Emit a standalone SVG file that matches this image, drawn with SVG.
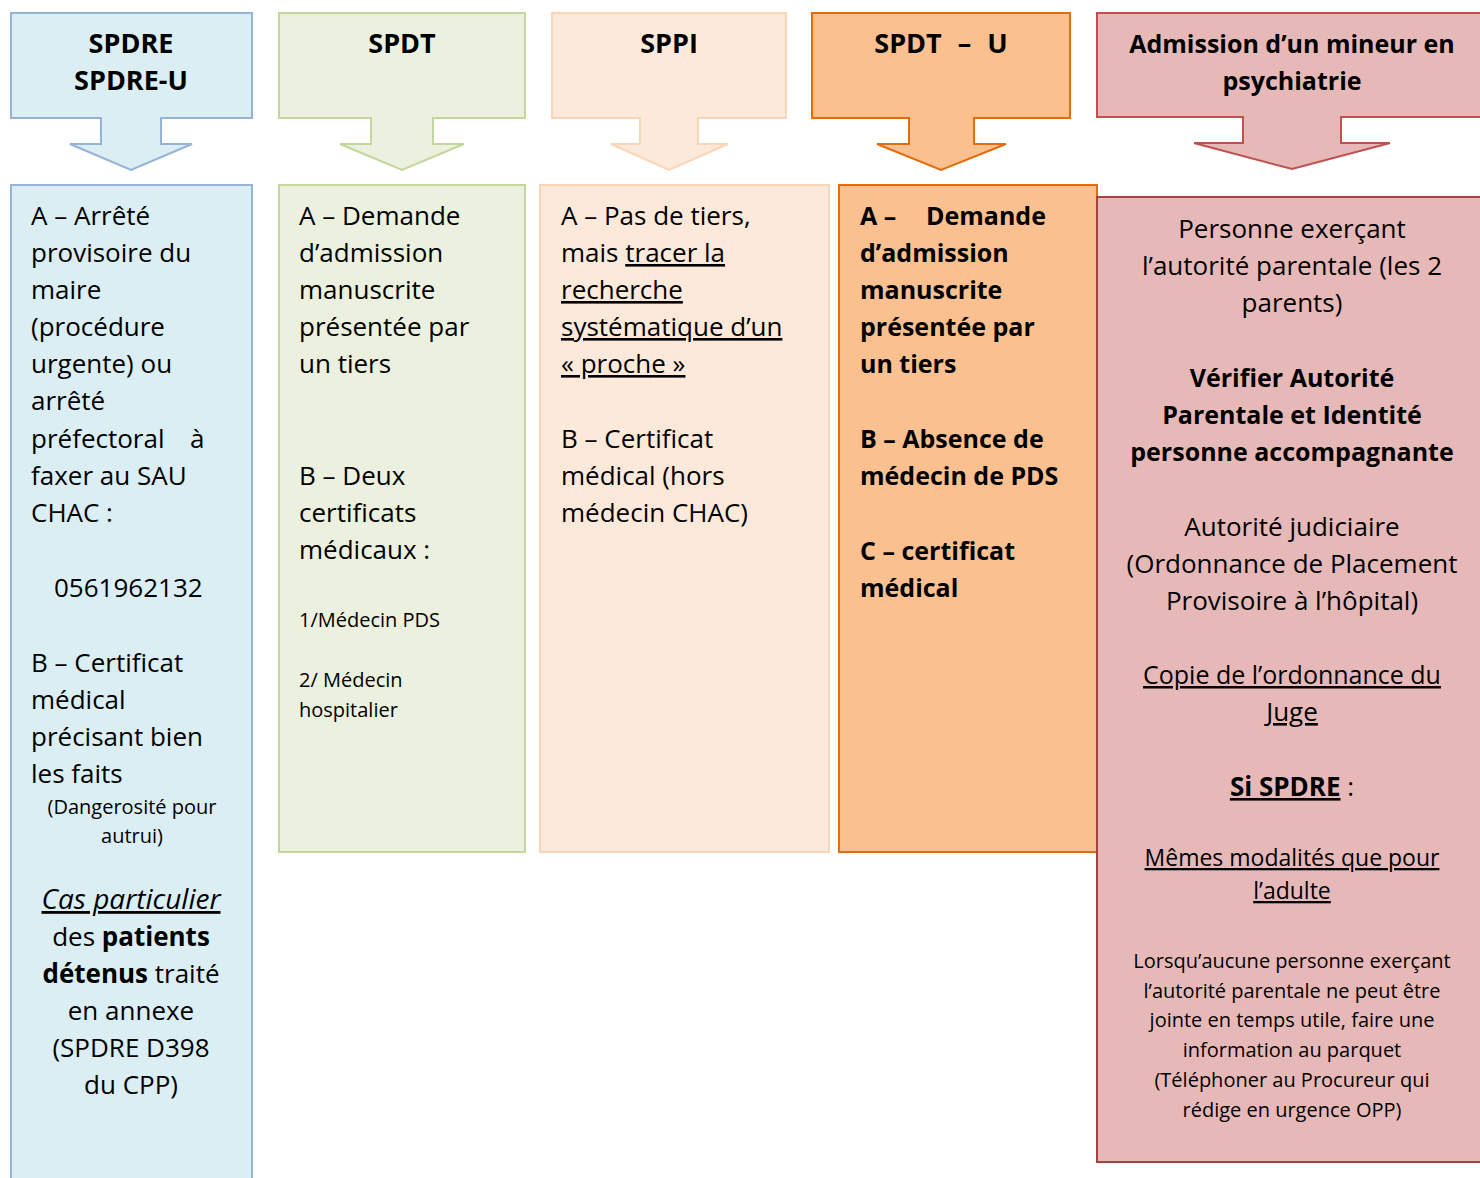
<svg xmlns="http://www.w3.org/2000/svg" width="1480" height="1178" viewBox="0 0 1480 1178">
<style>
text{font-family:"Open Sans","DejaVu Sans",sans-serif;fill:#000;}
.h{font-size:25px;font-weight:bold;text-anchor:middle;}
.h2{font-size:27px;}
.t{font-size:26px;}
.b{font-size:25px;font-weight:bold;}
.s{font-size:20px;}
.m{text-anchor:middle;}
.u{text-decoration:underline;}
.bold{font-weight:bold;}
.blue{fill:#dbeef4;stroke:#95b3d7;stroke-width:2;}
.green{fill:#ebf1de;stroke:#c3d69b;stroke-width:2;}
.peach{fill:#fde9d9;stroke:#fbd5b5;stroke-width:2;}
.orange{fill:#fac08f;stroke:#e46c0a;stroke-width:2;}
.pink{fill:#e6b9b8;stroke:#c0504d;stroke-width:2;}
.pinkb{fill:#e6b9b8;stroke:#a5433f;stroke-width:2;}
</style>
<rect width="1480" height="1178" fill="#fff"/>

<g id="head-spdre">
<path class="blue" d="M11,13 H252 V118 H161 V144 H192 L131,170 L70,144 H101 V118 H11 Z"/>
<text class="h h2" x="131" y="53">SPDRE</text>
<text class="h h2" x="131" y="90">SPDRE-U</text>
</g>
<g id="head-spdt">
<path class="green" d="M279,13 H525 V118 H433 V144 H464 L402,170 L340,144 H371 V118 H279 Z"/>
<text class="h h2" x="402" y="53">SPDT</text>
</g>
<g id="head-sppi">
<path class="peach" d="M552,13 H786 V118 H698 V144 H728 L669,170 L611,144 H640 V118 H552 Z"/>
<text class="h h2" x="669" y="53">SPPI</text>
</g>
<g id="head-spdtu">
<path class="orange" d="M812,13 H1070 V118 H974 V144 H1006 L941,170 L877,144 H909 V118 H812 Z"/>
<text class="h h2" x="941" y="53" word-spacing="9">SPDT – U</text>
</g>
<g id="head-mineur">
<path class="pink" d="M1097,13 H1492 V117 H1341 V143 H1390 L1292,169 L1194,143 H1243 V117 H1097 Z"/>
<text class="h" x="1292" y="53">Admission d’un mineur en</text>
<text class="h" x="1292" y="90">psychiatrie</text>
</g>

<g id="body-spdre">
<rect class="blue" x="11" y="185" width="241" height="1010"/>
<text class="t" x="31" y="225">A – Arrêté</text>
<text class="t" x="31" y="262">provisoire du</text>
<text class="t" x="31" y="299">maire</text>
<text class="t" x="31" y="336">(procédure</text>
<text class="t" x="31" y="373">urgente) ou</text>
<text class="t" x="31" y="410">arrêté</text>
<text class="t" x="31" y="448">préfectoral</text>
<text class="t" x="190" y="448">à</text>
<text class="t" x="31" y="485">faxer au SAU</text>
<text class="t" x="31" y="522">CHAC :</text>
<text class="t" x="54" y="597">0561962132</text>
<text class="t" x="31" y="672">B – Certificat</text>
<text class="t" x="31" y="709">médical</text>
<text class="t" x="31" y="746">précisant bien</text>
<text class="t" x="31" y="783">les faits</text>
<text class="s m" x="132" y="814">(Dangerosité pour</text>
<text class="s m" x="132" y="843">autrui)</text>
<text class="m u" x="131" y="909" style="font-style:italic;font-size:28px">Cas particulier</text>
<text class="t m" x="131" y="946">des <tspan class="bold">patients</tspan></text>
<text class="t m" x="131" y="983"><tspan class="bold">détenus</tspan> traité</text>
<text class="t m" x="131" y="1020">en annexe</text>
<text class="t m" x="131" y="1057">(SPDRE D398</text>
<text class="t m" x="131" y="1094">du CPP)</text>
</g>

<g id="body-spdt">
<rect class="green" x="279" y="185" width="246" height="667"/>
<text class="t" x="299" y="225">A – Demande</text>
<text class="t" x="299" y="262">d’admission</text>
<text class="t" x="299" y="299">manuscrite</text>
<text class="t" x="299" y="336">présentée par</text>
<text class="t" x="299" y="373">un tiers</text>
<text class="t" x="299" y="485">B – Deux</text>
<text class="t" x="299" y="522">certificats</text>
<text class="t" x="299" y="559">médicaux :</text>
<text class="s" x="299" y="627">1/Médecin PDS</text>
<text class="s" x="299" y="687">2/ Médecin</text>
<text class="s" x="299" y="717">hospitalier</text>
</g>

<g id="body-sppi">
<rect class="peach" x="540" y="185" width="289" height="667"/>
<text class="t" x="561" y="225">A – Pas de tiers,</text>
<text class="t" x="561" y="262">mais <tspan class="u">tracer la</tspan></text>
<text class="t u" x="561" y="299">recherche</text>
<text class="t u" x="561" y="336">systématique d’un</text>
<text class="t u" x="561" y="373">« proche »</text>
<text class="t" x="561" y="448">B – Certificat</text>
<text class="t" x="561" y="485">médical (hors</text>
<text class="t" x="561" y="522">médecin CHAC)</text>
</g>

<g id="body-spdtu">
<rect class="orange" x="839" y="185" width="258" height="667"/>
<text class="b" x="860" y="225">A –</text>
<text class="b" x="926" y="225">Demande</text>
<text class="b" x="860" y="262">d’admission</text>
<text class="b" x="860" y="299">manuscrite</text>
<text class="b" x="860" y="336">présentée par</text>
<text class="b" x="860" y="373">un tiers</text>
<text class="b" x="860" y="448">B – Absence de</text>
<text class="b" x="860" y="485">médecin de PDS</text>
<text class="b" x="860" y="560">C – certificat</text>
<text class="b" x="860" y="597">médical</text>
</g>

<g id="body-mineur">
<rect class="pinkb" x="1097" y="197" width="395" height="965"/>
<text class="t m" x="1292" y="238">Personne exerçant</text>
<text class="t m" x="1292" y="275">l’autorité parentale (les 2</text>
<text class="t m" x="1292" y="312">parents)</text>
<text class="b m" x="1292" y="387">Vérifier Autorité</text>
<text class="b m" x="1292" y="424">Parentale et Identité</text>
<text class="b m" x="1292" y="461">personne accompagnante</text>
<text class="t m" x="1292" y="536">Autorité judiciaire</text>
<text class="t m" x="1292" y="573">(Ordonnance de Placement</text>
<text class="t m" x="1292" y="610">Provisoire à l’hôpital)</text>
<text class="m u" x="1292" y="684" style="font-size:25px">Copie de l’ordonnance du</text>
<text class="t m u" x="1292" y="721">Juge</text>
<text class="t m" x="1292" y="796"><tspan class="bold u">Si SPDRE</tspan> :</text>
<text class="m u" x="1292" y="866" style="font-size:23px">Mêmes modalités que pour</text>
<text class="m u" x="1292" y="899" style="font-size:23px">l’adulte</text>
<text class="s m" x="1292" y="968">Lorsqu’aucune personne exerçant</text>
<text class="s m" x="1292" y="998">l’autorité parentale ne peut être</text>
<text class="s m" x="1292" y="1027">jointe en temps utile, faire une</text>
<text class="s m" x="1292" y="1057">information au parquet</text>
<text class="s m" x="1292" y="1087">(Téléphoner au Procureur qui</text>
<text class="s m" x="1292" y="1117">rédige en urgence OPP)</text>
</g>

<g id="connectors"></g>
</svg>
